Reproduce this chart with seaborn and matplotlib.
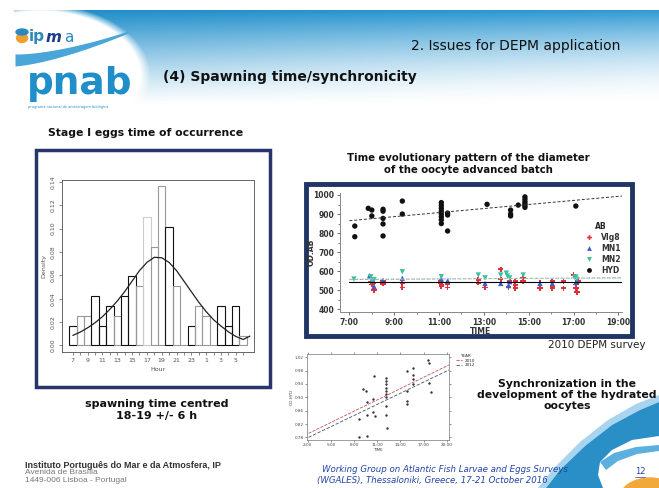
import numpy as np
import pandas as pd
import matplotlib.pyplot as plt
from matplotlib.patches import Rectangle, Ellipse, Polygon
import seaborn as sns

# histograma: huevos en estadio I por hora (densidad)
hist_hours = list(range(7, 31))
hist_density = [0.017, 0.025, 0.025, 0.042, 0.017, 0.034, 0.025, 0.042,
                0.059, 0.051, 0.110, 0.084, 0.136, 0.101, 0.051, 0.000,
                0.017, 0.034, 0.025, 0.000, 0.034, 0.017, 0.034, 0.008]
hour_ticks = list(range(7, 31))
hour_labels = ['7', '', '9', '', '11', '', '13', '', '15', '', '17', '', '19', '',
               '21', '', '23', '', '1', '', '3', '', '5', '']
dens_ticks = [0.00, 0.02, 0.04, 0.06, 0.08, 0.10, 0.12, 0.14]

# curva ajustada
curve_hours = [7, 8, 9, 10, 11, 12, 13, 14, 15, 16, 17, 18, 19, 20, 21, 22, 23,
               24, 25, 26, 27, 28, 29, 30, 30.9]
curve_density = [0.0086, 0.0114, 0.0151, 0.0194, 0.0246, 0.0309, 0.038, 0.046,
                 0.055, 0.064, 0.071, 0.0754, 0.075, 0.071, 0.064, 0.055, 0.046,
                 0.037, 0.029, 0.022, 0.0166, 0.0117, 0.0077, 0.0051, 0.008]

# diametro del lote avanzado (OD.AB) frente a la hora
vig8_t = [7.95, 8.0, 8.05, 8.1, 8.5, 8.5, 9.36, 9.36, 11.05, 11.05, 11.1, 11.1,
          11.38, 11.38, 12.75, 12.75, 13.05, 13.75, 13.75, 14.1, 14.15, 14.4,
          14.4, 14.4, 14.75, 14.75, 15.5, 15.5, 16.05, 16.05, 16.05, 16.55,
          16.55, 17.0, 17.1, 17.1, 17.15, 17.2]
vig8_v = [545, 530, 540, 500, 547, 535, 536, 515, 547, 538, 530, 521, 533, 515,
          555, 540, 515, 610, 558, 516, 547, 547, 526, 510, 565, 547, 541, 510,
          547, 520, 510, 547, 510, 580, 530, 510, 490, 550]
mn1_t = [7.9, 8.05, 8.1, 8.5, 9.36, 11.1, 11.38, 13.05, 13.75, 14.1, 14.15,
         15.5, 16.05, 17.1, 17.15]
mn1_v = [576, 553, 520, 553, 563, 559, 550, 536, 536, 525, 545, 536, 536, 541, 547]
mn2_t = [7.2, 7.95, 8.0, 8.1, 9.36, 11.1, 12.75, 13.05, 13.75, 14.0, 14.05,
         14.15, 14.75, 17.05, 17.1, 17.15]
mn2_v = [559, 571, 547, 555, 597, 571, 580, 565, 580, 590, 575, 565, 580, 566,
         570, 558]
hyd_t = [7.24, 7.24, 7.84, 8.0, 8.0, 8.5, 8.5, 8.5, 8.5, 8.5, 9.36, 9.36,
         11.1, 11.1, 11.1, 11.1, 11.1, 11.1, 11.1, 11.1, 11.38, 11.38, 11.38,
         13.14, 14.19, 14.19, 14.19, 14.53, 14.83, 14.83, 14.83, 14.83, 14.83,
         14.83, 17.1]
hyd_v = [837, 781, 930, 921, 890, 925, 915, 877, 848, 785, 968, 900, 960, 945,
         930, 915, 900, 885, 870, 850, 905, 895, 811, 951, 921, 900, 890, 947,
         990, 978, 965, 955, 945, 935, 942]
fit_t = [7.0, 19.2]
hyd_fit = [865, 995]
ab_fit = [545, 545]
mn_fit = [556, 566]
mn2_fit = [560, 562]
time_ticks = [7, 9, 11, 13, 15, 17, 19]
time_labels = ['7:00', '9:00', '11:00', '13:00', '15:00', '17:00', '19:00']

# sincronizacion de los hidratados
sync_t = [8.7, 8.7, 9.2, 9.6, 9.7, 9.7, 9.7, 10.4, 10.4, 10.6, 10.7, 12.1, 12.1,
          12.1, 12.1, 12.1, 12.1, 12.1, 12.1, 12.1, 12.3, 14.9, 14.9, 14.9, 14.9,
          15.6, 15.6, 15.6, 15.6, 17.6, 17.7, 17.7, 18.0]
sync_v = [0.834, 0.780, 0.926, 0.919, 0.887, 0.846, 0.783, 0.895, 0.856, 0.965,
          0.845, 0.958, 0.948, 0.939, 0.928, 0.918, 0.910, 0.900, 0.874, 0.846,
          0.807, 0.978, 0.919, 0.890, 0.880, 0.988, 0.968, 0.955, 0.939, 1.012,
          1.002, 0.944, 0.915]
sync_fit_t = [2.1, 20.3]
fit_2010 = [0.792, 0.997]
fit_2012 = [0.780, 0.982]
sync_ticks = [2, 5, 8, 11, 14, 17, 20]
sync_labels = ['2:00', '5:00', '8:00', '11:00', '14:00', '17:00', '20:00']
sync_yticks = [0.78, 0.82, 0.86, 0.90, 0.94, 0.98, 1.02]

sns.set_style('ticks')
plt.rcParams['font.family'] = ['DejaVu Sans']

W, H = 659, 488
fig = plt.figure(figsize=(W / 100, H / 100), dpi=100)

# ---------- fondo de la diapositiva
bg = fig.add_axes([0, 0, 1, 1])
xx, yy = np.meshgrid(np.arange(W), np.arange(H))
alpha = np.clip((105 - yy) / 95, 0, 1) ** (1 + 0.8 * xx / W)
alpha[yy < 10] = 0
alpha[xx < 14] = 0
blob = ((xx - 40) / 105) ** 2 + ((yy - 75) / 68) ** 2
alpha *= np.clip((blob - 0.9) / 0.2, 0, 1)
blue = np.stack([28 + 22 * xx / W, 140 + 15 * xx / W, 200 + 12 * xx / W], -1) / 255
img = blue * alpha[..., None] + (1 - alpha[..., None])
bg.imshow(img, extent=[0, W, H, 0], aspect='auto')
bg.set_xlim(0, W)
bg.set_ylim(H, 0)
bg.axis('off')

# logos
xs = np.linspace(15, 128, 40)
yc = 60 - 28 * ((xs - 15) / 113) ** 1.5
th = 5 * (1 - (xs - 15) / 113) + 1
bg.fill_between(xs, yc - th, yc + th, color='#4aa6d8', lw=0)
bg.add_patch(Ellipse((22, 38), 11, 9, color='#f0a030'))
bg.add_patch(Ellipse((22, 32), 12, 6, color='#2a8ac0'))
bg.text(29, 37, 'ip', fontsize=11, color='#2a8ac0', va='center', fontweight='bold')
bg.text(46, 37, 'm', fontsize=11, color='#1d3b8a', va='center', style='italic',
        fontweight='bold')
bg.text(64, 37, 'a', fontsize=11, color='#2a8ac0', va='center')
bg.text(27, 84, 'pnab', fontsize=27, color='#1f8ec9', va='center', fontweight='bold')
bg.text(28, 107, 'programa nacional de amostragem biológica', fontsize=2.5,
        color='#1f8ec9', va='center')

# decoracion inferior derecha (ola azul y sol naranja)
bg.add_patch(Polygon([(538, 488), (554, 468), (580, 442), (608, 420), (636, 404),
                      (659, 395), (659, 402), (640, 410), (612, 425), (585, 446),
                      (560, 470), (546, 488)], color='#a8d4ef', lw=0))
bg.add_patch(Polygon([(546, 488), (560, 470), (585, 446), (612, 425), (640, 410),
                      (659, 402), (659, 436), (632, 440), (612, 450), (600, 462),
                      (598, 475), (603, 488)], color='#2a8fc6', lw=0))
bg.add_patch(Polygon([(600, 462), (614, 453), (636, 447), (659, 445), (659, 451),
                      (637, 454), (618, 461), (606, 470)], color='#5cb0e0', lw=0))
bg.add_patch(Ellipse((650, 500), 62, 44, color='#f2a93b'))

# marcos
bg.add_patch(Rectangle((36, 150), 234, 237, fill=False, ec='#27356a', lw=2.5))
bg.add_patch(Rectangle((306, 184), 326, 152, fill=False, ec='#1f3563', lw=3.5))

# textos
bg.text(620, 46, '2. Issues for DEPM application', ha='right', va='center',
        fontsize=10, color='#111')
bg.text(163, 77, '(4) Spawning time/synchronicity', ha='left', va='center',
        fontsize=10, fontweight='bold', color='#111')
bg.text(48, 133, 'Stage I eggs time of occurrence', ha='left', va='center',
        fontsize=7.8, fontweight='bold', color='#111')
bg.text(468, 164, 'Time evolutionary pattern of the diameter\nof the oocyte advanced batch',
        ha='center', va='center', fontsize=7.3, fontweight='bold', linespacing=1.2,
        color='#111')
bg.text(645, 345, '2010 DEPM survey', ha='right', va='center', fontsize=7.5, color='#222')
bg.text(567, 395, 'Synchronization in the\ndevelopment of the hydrated\noocytes',
        ha='center', va='center', fontsize=7.8, fontweight='bold', linespacing=1.15,
        color='#111')
bg.text(157, 410, 'spawning time centred\n18-19 +/- 6 h', ha='center', va='center',
        fontsize=8, fontweight='bold', linespacing=1.15, color='#111')
bg.text(25, 465, 'Instituto Português do Mar e da Atmosfera, IP', fontsize=6.5,
        fontweight='bold', color='#333', va='center', family='Liberation Sans')
bg.text(25, 473, 'Avenida de Brasília', fontsize=6, color='#777', va='center',
        family='Liberation Sans')
bg.text(25, 481, '1449-006 Lisboa - Portugal', fontsize=6, color='#777', va='center',
        family='Liberation Sans')
bg.text(445, 469, 'Working Group on Atlantic Fish Larvae and Eggs Surveys', ha='center',
        va='center', fontsize=6.2, style='italic', color='#2244aa')
bg.text(432, 481, '(WGALES), Thessaloniki, Greece, 17-21 October 2016', ha='center',
        va='center', fontsize=6.2, style='italic', color='#2244aa')
bg.text(640, 472, '12', ha='center', va='center', fontsize=6, color='#2244aa')
bg.plot([635, 645], [477, 477], color='#2244aa', lw=0.5)

# ---------- histograma
hist_df = pd.DataFrame({'hour': hist_hours, 'dens': hist_density})
ax1 = fig.add_axes([62 / W, 1 - 352 / H, 192 / W, 172 / H])
sns.histplot(data=hist_df, x='hour', weights='dens', binwidth=1,
             binrange=(6.5, 30.5), fill=False, color='black', linewidth=0.8, ax=ax1)
edge_cols = ['#111', '#999', '#999', '#111', '#111', '#111', '#999', '#111',
             '#111', '#999', '#cccccc', '#999', '#999', '#111', '#999', '#999',
             '#111', '#999', '#999', '#999', '#111', '#111', '#111', '#999']
for p, ec in zip(ax1.patches, edge_cols):
    p.set_edgecolor(ec)
sns.lineplot(x=curve_hours, y=curve_density, color='#222', lw=0.9, ax=ax1)
ax1.set_xlim(5.54, 31.46)
ax1.set_ylim(-0.0056, 0.1415)
ax1.set_xticks(hour_ticks)
ax1.set_xticklabels(hour_labels)
ax1.set_yticks(dens_ticks)
ax1.set_yticklabels([f'{v:.2f}' for v in dens_ticks], rotation=90, va='center')
ax1.tick_params(labelsize=4.5, colors='#555', length=2.5, width=0.5, pad=2)
ax1.set_xlabel('Hour', fontsize=4.5, color='#555', labelpad=3)
ax1.set_ylabel('Density', fontsize=4.5, color='#555', labelpad=3)
for s in ax1.spines.values():
    s.set_color('#666')
    s.set_linewidth(0.7)

# ---------- OD.AB frente a la hora
ab_df = pd.DataFrame({
    'time': vig8_t + mn1_t + mn2_t + hyd_t,
    'od': vig8_v + mn1_v + mn2_v + hyd_v,
    'AB': ['VIg8'] * len(vig8_t) + ['MN1'] * len(mn1_t) + ['MN2'] * len(mn2_t)
          + ['HYD'] * len(hyd_t),
})
ab_order = ['VIg8', 'MN1', 'MN2', 'HYD']
ab_colors = {'VIg8': '#e0303a', 'MN1': '#3a5fc8', 'MN2': '#3cc0a0', 'HYD': '#111111'}
ab_markers = {'VIg8': 'P', 'MN1': '^', 'MN2': 'v', 'HYD': 'o'}

ax2 = fig.add_axes([340 / W, 1 - 312 / H, 282 / W, 119.3 / H])
sns.lineplot(x=fit_t, y=ab_fit, color='black', lw=0.8, ax=ax2)
sns.lineplot(x=fit_t, y=mn_fit, color='#aaaaaa', lw=0.7, linestyle='--', ax=ax2)
sns.lineplot(x=fit_t, y=mn2_fit, color='#8fd8c4', lw=0.7, linestyle=':', ax=ax2)
sns.lineplot(x=fit_t, y=hyd_fit, color='#333', lw=0.7, linestyle=(0, (3, 2)), ax=ax2)
sns.scatterplot(data=ab_df, x='time', y='od', hue='AB', style='AB',
                hue_order=ab_order, style_order=ab_order, palette=ab_colors,
                markers=ab_markers, s=15, linewidth=0, ax=ax2)
ax2.set_xlim(6.58, 19.16)
ax2.set_ylim(386, 1012)
ax2.set_xticks(time_ticks)
ax2.set_xticklabels(time_labels)
ax2.set_xticks(np.arange(7, 19.5, 1), minor=True)
ax2.set_yticks(np.arange(400, 1001, 100))
ax2.set_yticks(np.arange(400, 1001, 50), minor=True)
ax2.tick_params(labelsize=5.5, colors='#333', length=2.5, width=0.5, pad=1.5)
ax2.tick_params(which='minor', length=1.5, width=0.4)
for lab in ax2.get_xticklabels() + ax2.get_yticklabels():
    lab.set_fontweight('bold')
ax2.set_xlabel('TIME', fontsize=5.5, fontweight='bold', color='#333', labelpad=0.5)
ax2.set_ylabel('OD.AB', fontsize=5.5, fontweight='bold', color='#333')
ax2.yaxis.set_label_coords(-0.085, 0.5)
sns.despine(ax=ax2)
for s in ax2.spines.values():
    s.set_color('#888')
    s.set_linewidth(0.7)
sns.move_legend(ax2, loc='upper left', bbox_to_anchor=(0.83, 0.81), frameon=False,
                title='AB', fontsize=5.5, title_fontsize=5.5, labelspacing=0.25,
                handletextpad=0.6, markerscale=0.9)
ax2.get_legend().get_title().set_fontweight('bold')
for t in ax2.get_legend().get_texts():
    t.set_fontweight('bold')
    t.set_color('#333')

# ---------- sincronizacion de hidratados
ax3 = fig.add_axes([307 / W, 1 - 439.5 / H, 142 / W, 85.5 / H])
sns.scatterplot(x=sync_t, y=sync_v, color='#333', s=3, marker='o', linewidth=0,
                ax=ax3)
sns.lineplot(x=sync_fit_t, y=fit_2010, color='#c05050', lw=0.6,
             linestyle='--', ax=ax3)
sns.lineplot(x=sync_fit_t, y=fit_2012, color='#405080', lw=0.6,
             linestyle=(0, (4, 2)), ax=ax3)
ax3.set_xlim(1.9, 20.3)
ax3.set_ylim(0.7736, 1.0297)
ax3.set_xticks(sync_ticks)
ax3.set_xticklabels(sync_labels)
ax3.set_yticks(sync_yticks)
ax3.set_yticklabels([f'{v:.2f}' for v in sync_yticks])
ax3.tick_params(labelsize=3, colors='#444', length=1.5, width=0.4, pad=1,
                top=True, right=True)
ax3.set_xlabel('TIME', fontsize=3, color='#444', labelpad=0.5)
ax3.set_ylabel('OD.HYD', fontsize=3, color='#444', labelpad=0.5)
for s in ax3.spines.values():
    s.set_color('#777')
    s.set_linewidth(0.5)
ax3.legend(ax3.get_lines()[:2], ['2010', '2012'], title='YEAR', loc='upper left',
           bbox_to_anchor=(1.02, 1.04), frameon=False, fontsize=3, title_fontsize=3,
           handlelength=1.5, labelspacing=0.1)

fig.savefig('out.png', dpi=100)
